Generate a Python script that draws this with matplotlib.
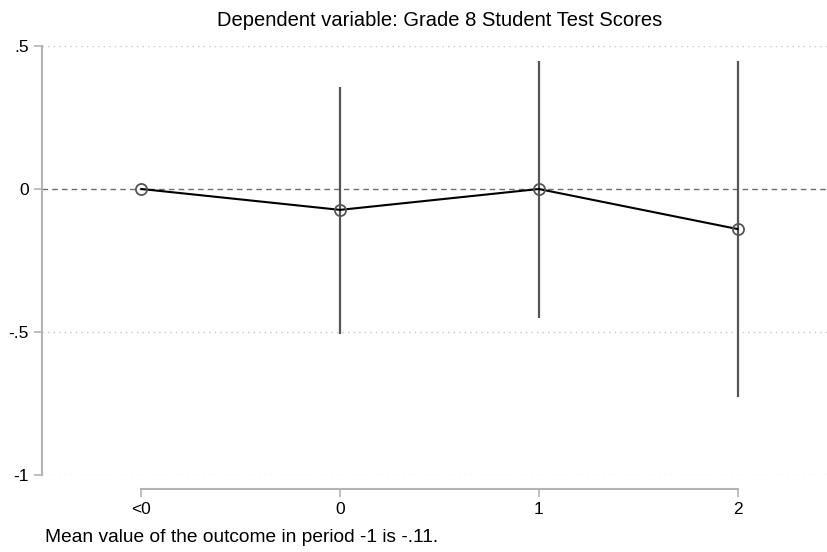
import matplotlib.pyplot as plt
import numpy as np

plt.rcParams['font.family'] = ['Liberation Sans', 'DejaVu Sans']

periods = ['<0', '0', '1', '2']
coef = [0.0, -0.073, 0.0, -0.14]
ci_low = [np.nan, -0.507, -0.451, -0.727]
ci_high = [np.nan, 0.357, 0.448, 0.448]
yticks = [-1, -0.5, 0, 0.5]
ytick_labels = ['-1', '-.5', '0', '.5']

x = np.arange(len(periods))

fig = plt.figure(figsize=(8.27, 5.52), dpi=100)
ax = fig.add_axes([42 / 827, 1 - 475 / 552, 1 - 42 / 827, (475 - 46) / 552])

# gridlines and reference line at zero
for yv in yticks:
    if yv != 0:
        ax.axhline(yv, color='#c8c8c8', lw=1, ls=(0, (1, 3)), zorder=0)
ax.axhline(0, color='#6e6e6e', lw=1, ls=(0, (4, 3)), zorder=1)

# confidence intervals
for xi, lo, hi in zip(x, ci_low, ci_high):
    if not np.isnan(lo):
        ax.vlines(xi, lo, hi, color='#555555', lw=1.6, zorder=2)

ax.plot(x, coef, color='black', lw=1.5, zorder=3)
ax.plot(x, coef, ls='none', marker='o', ms=8, mfc='none', mec='#555555', mew=1.3, zorder=4)

ax.set_xlim(-0.5, 3.45)
ax.set_ylim(-1, 0.5)
ax.set_xticks(x)
ax.set_xticklabels(periods)
ax.set_yticks(yticks)
ax.set_yticklabels(ytick_labels)

for s in ['top', 'right']:
    ax.spines[s].set_visible(False)
ax.spines['left'].set_color('#b4b4b4')
ax.spines['left'].set_linewidth(1.5)
ax.spines['left'].set_bounds(-1, 0.5)
ax.spines['bottom'].set_color('#b4b4b4')
ax.spines['bottom'].set_linewidth(1.5)
ax.spines['bottom'].set_bounds(0, 3)
ax.spines['bottom'].set_position(('outward', 10))
ax.tick_params(axis='both', colors='#b4b4b4', labelcolor='black', length=5.5, width=1.2,
               labelsize=12.5)
ax.tick_params(axis='y', pad=4)
ax.tick_params(axis='x', pad=4)

fig.text(440 / 827, 1 - 20 / 552, 'Dependent variable: Grade 8 Student Test Scores',
         ha='center', va='center', fontsize=14.5)
fig.text(45 / 827, 1 - 537 / 552, 'Mean value of the outcome in period -1 is -.11.',
         ha='left', va='center', fontsize=13.8)

fig.savefig('out.png', dpi=100)
